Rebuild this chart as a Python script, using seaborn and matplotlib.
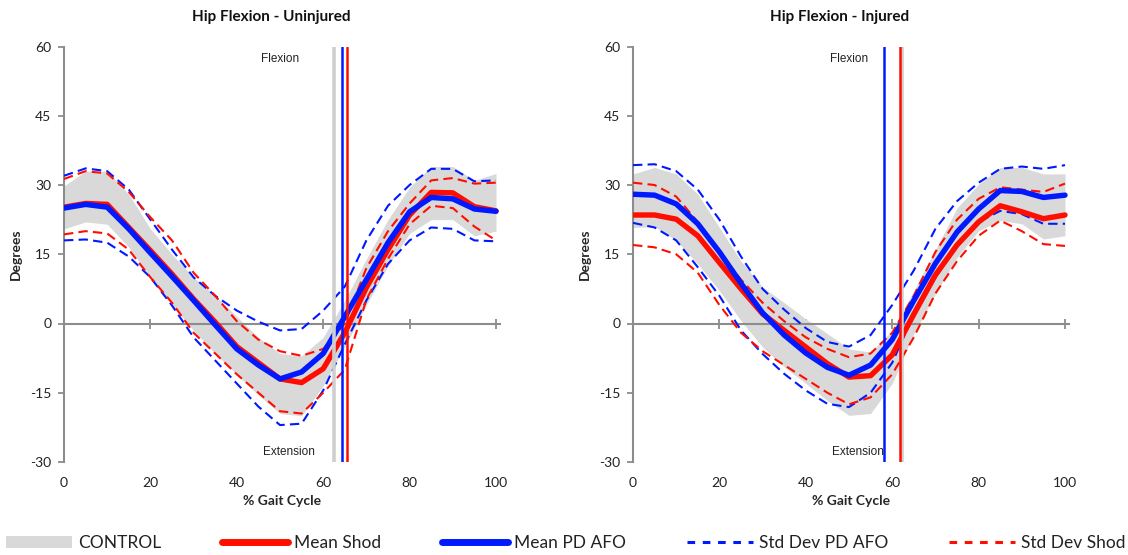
import matplotlib
matplotlib.use("Agg")
import matplotlib.pyplot as plt
import seaborn as sns
from matplotlib.lines import Line2D
from matplotlib.patches import Patch

# ---------------- data ----------------
gait = [0, 5, 10, 15, 20, 25, 30, 35, 40, 45, 50, 55, 60, 65, 70, 75, 80, 85, 90, 95, 100]

# Uninjured side
uninj_ctrl_hi = [29.8, 33.0, 33.0, 28.0, 20.5, 15.0, 10.0, 6.0, 1.5, -3.0, -6.5, -7.0, -3.0, 5.0, 14.0, 22.5, 29.5, 34.0, 34.0, 31.0, 32.5]
uninj_ctrl_lo = [20.5, 22.0, 21.5, 16.5, 10.0, 4.0, -1.5, -6.5, -11.0, -15.5, -19.5, -20.0, -13.5, -5.0, 4.0, 12.5, 19.5, 22.5, 22.5, 19.0, 20.0]
uninj_shod_mean = [25.2, 26.0, 25.8, 20.8, 15.8, 10.7, 5.3, 0.3, -5.0, -8.5, -12.0, -12.8, -9.8, -2.0, 7.8, 16.0, 23.5, 28.4, 28.3, 25.3, 24.4]
uninj_afo_mean = [25.0, 25.8, 25.2, 20.5, 15.3, 10.2, 5.0, -0.3, -5.5, -9.0, -12.0, -10.5, -6.5, 1.5, 9.5, 17.5, 24.2, 27.3, 27.0, 24.8, 24.3]
uninj_afo_sd_hi = [32.0, 33.6, 33.0, 29.0, 22.5, 16.0, 10.0, 6.0, 2.8, 0.4, -1.5, -1.2, 2.8, 8.0, 18.0, 25.5, 30.0, 33.5, 33.5, 30.8, 31.0]
uninj_afo_sd_lo = [18.0, 18.2, 17.5, 14.5, 10.0, 3.9, -3.0, -8.0, -13.0, -18.0, -22.0, -21.7, -14.5, -4.5, 5.0, 12.9, 18.0, 20.8, 20.5, 18.0, 17.8]
uninj_shod_sd_hi = [31.3, 33.0, 32.5, 28.5, 23.0, 18.0, 11.0, 6.0, 0.5, -3.5, -6.0, -7.0, -5.5, 0.0, 12.0, 20.0, 26.0, 31.0, 31.5, 30.3, 30.5]
uninj_shod_sd_lo = [19.3, 20.0, 19.5, 16.0, 10.0, 4.5, -2.0, -6.5, -11.0, -15.0, -19.0, -19.5, -15.0, -10.0, 5.2, 14.0, 21.5, 25.5, 25.0, 21.0, 18.0]
uninj_toe_off = [62.5, 64.4, 65.4]   # control, PD AFO, shod

# Injured side
inj_ctrl_hi = [32.4, 33.8, 32.4, 28.0, 20.8, 13.5, 7.9, 4.5, 1.0, -2.2, -5.5, -6.2, -1.5, 7.1, 16.0, 25.0, 30.2, 33.8, 33.8, 32.4, 32.4]
inj_ctrl_lo = [20.8, 21.0, 18.0, 12.9, 7.1, 0.6, -5.1, -9.4, -13.0, -16.7, -19.9, -19.5, -13.0, -2.2, 6.4, 14.3, 20.1, 22.3, 21.6, 18.3, 19.0]
inj_shod_mean = [23.5, 23.5, 22.6, 19.0, 13.2, 7.5, 2.1, -1.5, -5.1, -8.7, -11.6, -11.3, -6.8, 2.0, 10.5, 17.0, 22.0, 25.5, 24.2, 22.7, 23.5]
inj_afo_mean = [28.0, 27.8, 25.9, 21.6, 15.5, 8.7, 2.3, -2.5, -6.4, -9.5, -11.2, -9.0, -3.5, 5.0, 13.0, 19.8, 24.8, 28.8, 28.6, 27.3, 27.8]
inj_afo_sd_hi = [34.3, 34.5, 33.0, 29.0, 22.5, 14.5, 7.5, 3.0, -1.0, -4.0, -5.0, -2.5, 4.0, 11.5, 20.5, 26.5, 30.5, 33.5, 34.0, 33.5, 34.3]
inj_afo_sd_lo = [21.8, 20.8, 18.0, 12.2, 6.0, -1.5, -6.6, -10.9, -14.5, -17.4, -18.1, -15.0, -8.5, 2.0, 10.0, 17.0, 22.0, 24.4, 23.7, 21.6, 21.6]
inj_shod_sd_hi = [30.5, 30.0, 27.5, 22.0, 15.5, 9.5, 4.5, 0.5, -3.0, -5.5, -7.3, -6.5, -2.0, 6.0, 15.5, 22.5, 27.0, 29.5, 29.0, 28.5, 30.3]
inj_shod_sd_lo = [17.0, 16.5, 15.0, 11.0, 4.0, -2.0, -6.0, -9.0, -12.0, -15.0, -17.5, -16.0, -11.0, -3.0, 6.5, 13.5, 19.0, 22.3, 20.0, 17.2, 16.8]
inj_toe_off = [62.3, 58.2, 61.7]     # control, PD AFO, shod

y_ticks = [-30, -15, 0, 15, 30, 45, 60]
x_ticks = [0, 20, 40, 60, 80, 100]
legend_labels = ["CONTROL", "Mean Shod", "Mean PD AFO", "Std Dev PD AFO", "Std Dev Shod"]

# ---------------- style ----------------
sns.set_theme(style="white")
plt.rcParams["font.family"] = ["Lato", "DejaVu Sans"]
plt.rcParams["axes.unicode_minus"] = False

RED = "#ff0d00"
BLUE = "#0019ff"
BAND = "#d9d9d9"
AXC = "#8c8c8c"
DASH = (0, (4.5, 2.5))

fig = plt.figure(figsize=(11.28, 5.55), dpi=100)
W, H = 1128, 555
x_span = 432 * 1.01


def panel(left_px, title, title_px, ctrl_hi, ctrl_lo, shod_m, afo_m, afo_hi, afo_lo,
          shod_hi, shod_lo, toe):
    ax = fig.add_axes([left_px / W, (H - 462) / H, x_span / W, 415.5 / H])
    ax.fill_between(gait, ctrl_lo, ctrl_hi, color=BAND, lw=0, zorder=1)
    sns.lineplot(x=gait, y=afo_hi, ax=ax, color=BLUE, lw=1.5, linestyle=DASH, zorder=3)
    sns.lineplot(x=gait, y=afo_lo, ax=ax, color=BLUE, lw=1.5, linestyle=DASH, zorder=3)
    sns.lineplot(x=gait, y=shod_hi, ax=ax, color=RED, lw=1.5, linestyle=DASH, zorder=3)
    sns.lineplot(x=gait, y=shod_lo, ax=ax, color=RED, lw=1.5, linestyle=DASH, zorder=3)
    sns.lineplot(x=gait, y=shod_m, ax=ax, color=RED, lw=3.9, zorder=4)
    sns.lineplot(x=gait, y=afo_m, ax=ax, color=BLUE, lw=3.9, zorder=4)
    ax.axvline(toe[0], color="#cfcfcf", lw=2.6, zorder=5)
    ax.axvline(toe[1], color=BLUE, lw=1.8, zorder=5)
    ax.axvline(toe[2], color=RED, lw=1.8, zorder=5)

    ax.set_xlim(0, 101)
    ax.set_ylim(-30, 60)
    for s in ["top", "right"]:
        ax.spines[s].set_visible(False)
    ax.spines["left"].set_color(AXC)
    ax.spines["left"].set_linewidth(1.5)
    ax.spines["bottom"].set_position(("data", 0))
    ax.spines["bottom"].set_color(AXC)
    ax.spines["bottom"].set_linewidth(1.5)
    ax.spines["bottom"].set_zorder(2)
    ax.set_yticks(y_ticks)
    ax.tick_params(axis="y", direction="out", length=4, width=1.3, color=AXC,
                   labelsize=10, pad=5, labelcolor="#222222", left=True)
    ax.set_xticks(x_ticks[1:])
    ax.tick_params(axis="x", direction="inout", length=7, width=1.3, color=AXC,
                   labelbottom=False, bottom=True)
    sec = ax.secondary_xaxis("bottom")
    sec.set_xticks(x_ticks)
    sec.tick_params(length=0, labelsize=10, pad=11, labelcolor="#222222")
    for s in sec.spines.values():
        s.set_visible(False)
    sec.set_xlabel("% Gait Cycle", fontsize=10, fontweight="bold", labelpad=4)
    ax.set_ylabel("Degrees", fontsize=10, fontweight="bold", labelpad=6)
    ax.text(50, 57.4, "Flexion", ha="center", va="center", fontsize=8.5,
            family=["Liberation Sans", "DejaVu Sans"], color="#222222", zorder=6)
    ax.text(52, -27.9, "Extension", ha="center", va="center", fontsize=8.5,
            family=["Liberation Sans", "DejaVu Sans"], color="#222222", zorder=6)
    fig.text(title_px / W, 1 - 17 / H, title, ha="center", va="center",
             fontsize=11, fontweight="bold", color="#111111")
    return ax


panel(64, "Hip Flexion - Uninjured", 271, uninj_ctrl_hi, uninj_ctrl_lo, uninj_shod_mean,
      uninj_afo_mean, uninj_afo_sd_hi, uninj_afo_sd_lo, uninj_shod_sd_hi, uninj_shod_sd_lo,
      uninj_toe_off)
panel(633, "Hip Flexion - Injured", 840, inj_ctrl_hi, inj_ctrl_lo, inj_shod_mean,
      inj_afo_mean, inj_afo_sd_hi, inj_afo_sd_lo, inj_shod_sd_hi, inj_shod_sd_lo,
      inj_toe_off)

handles = [
    Patch(facecolor=BAND, edgecolor="none"),
    Line2D([], [], color=RED, lw=5),
    Line2D([], [], color=BLUE, lw=5),
    Line2D([], [], color=BLUE, lw=2.2, linestyle=(0, (2.5, 2.5))),
    Line2D([], [], color=RED, lw=2.2, linestyle=(0, (2.5, 2.5))),
]
fig.legend(handles, legend_labels, loc="center left", bbox_to_anchor=(6 / W, 12 / H),
           ncol=5, frameon=False, fontsize=12.5, handlelength=3.8, handletextpad=0.35,
           columnspacing=3.5, borderpad=0, borderaxespad=0, handleheight=0.7,
           labelcolor="#222222")

fig.savefig("out.png", dpi=100)
